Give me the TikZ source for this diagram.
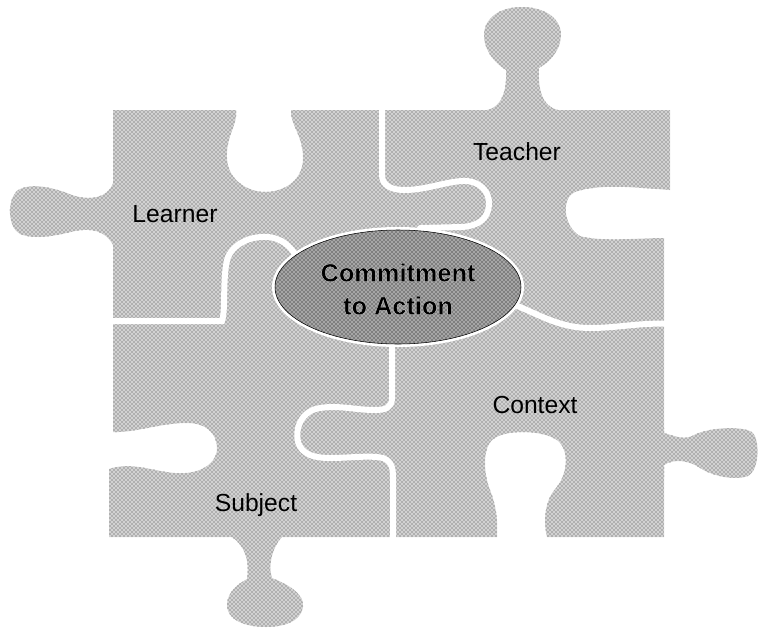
\documentclass[tikz,border=0pt]{standalone}
\usepackage{fontspec}
\setmainfont{Liberation Sans}
\usetikzlibrary{patterns}

% black letters with a white rim (fill and stroke text mode)
\newcommand\rimmed[1]{\special{pdf:literal direct 1 1 1 RG 0.15 w 2 Tr}#1\special{pdf:literal direct 0 Tr}}

\begin{document}
\begin{tikzpicture}
  [x=0.75pt, y=-0.75pt,
   piece/.style={fill=gray!35, postaction={pattern=crosshatch dots, pattern color=black!75}},
   cut/.style={draw=white, line width=4.5pt, line cap=round},
   hub/.style={fill=gray!70, draw=black, thin, postaction={pattern=crosshatch dots, pattern color=black}},
   tag/.style={font=\fontsize{18.5}{22}\selectfont, anchor=base, inner sep=0pt},
   hubtext/.style={font=\fontsize{19}{24.75}\selectfont\bfseries, align=center, inner sep=0pt, line width=0.15pt},
  ]
  \useasboundingbox (0,0) rectangle (759,628);

  % the four pieces as one outline
  \path[piece] (113,110) -- (236,110)
    .. controls (238,125) and (226,135) .. (227,158)
    .. controls (228,182) and (250,192) .. (265,192)
    .. controls (282,192) and (303,182) .. (303,158)
    .. controls (303,135) and (290,125) .. (291,110)
    -- (487,110)
    .. controls (502,107) and (507,90) .. (506,70)
    .. controls (490,60) and (483,45) .. (484,33)
    .. controls (486,15) and (503,7) .. (522,7)
    .. controls (543,7) and (561,17) .. (561,35)
    .. controls (561,50) and (550,62) .. (539,68)
    .. controls (538,90) and (542,106) .. (558,110)
    -- (670,110) -- (670,190)
    .. controls (640,188) and (600,183) .. (575,192)
    .. controls (562,197) and (562,225) .. (580,236)
    .. controls (600,242) and (640,238) .. (664,238)
    -- (664,433)
    .. controls (675,436) and (683,440) .. (692,436)
    .. controls (705,428) and (740,425) .. (752,432)
    .. controls (760,438) and (760,470) .. (748,476)
    .. controls (735,481) and (712,476) .. (700,468)
    .. controls (690,461) and (675,458) .. (664,465)
    -- (664,537) -- (547,537)
    .. controls (543,520) and (545,500) .. (556,488)
    .. controls (566,476) and (570,455) .. (560,443)
    .. controls (550,430) and (505,428) .. (492,440)
    .. controls (482,450) and (484,475) .. (490,490)
    .. controls (496,505) and (498,520) .. (497,537)
    -- (282,537)
    .. controls (272,548) and (268,565) .. (272,578)
    .. controls (290,585) and (305,595) .. (303,607)
    .. controls (301,622) and (283,627) .. (266,627)
    .. controls (245,627) and (227,620) .. (227,605)
    .. controls (227,592) and (238,584) .. (247,579)
    .. controls (250,560) and (244,545) .. (232,537)
    -- (109,537) -- (109,469)
    .. controls (135,460) and (160,475) .. (185,473)
    .. controls (205,472) and (218,460) .. (217,447)
    .. controls (216,432) and (205,423) .. (187,423)
    .. controls (160,423) and (135,433) .. (113,432)
    -- (113,245)
    .. controls (105,230) and (90,228) .. (75,231)
    .. controls (55,236) and (35,240) .. (20,234)
    .. controls (8,228) and (6,200) .. (18,190)
    .. controls (32,182) and (55,188) .. (72,195)
    .. controls (90,201) and (108,198) .. (113,183)
    -- cycle;

  % cuts between the pieces
  \draw[cut] (382,100) -- (382,175)
    .. controls (382,186) and (392,190) .. (405,190)
    .. controls (425,190) and (445,182) .. (462,181)
    .. controls (480,180) and (490,192) .. (489,205)
    .. controls (488,219) and (478,226) .. (462,227) -- (420,228);
  \draw[cut] (515,305) .. controls (540,315) and (560,328) .. (590,328)
    .. controls (620,328) and (640,322) .. (675,324);
  \draw[cut] (392,340) -- (392,398)
    .. controls (392,408) and (385,410) .. (375,410)
    .. controls (355,410) and (340,405) .. (320,408)
    .. controls (300,411) and (295,430) .. (298,442)
    .. controls (302,455) and (315,458) .. (330,458)
    .. controls (350,458) and (370,455) .. (383,458)
    .. controls (393,462) and (393,470) .. (393,480) -- (393,545);
  \draw[cut] (100,321) -- (222,321)
    .. controls (226,310) and (222,275) .. (228,257)
    .. controls (235,242) and (252,236) .. (268,237)
    .. controls (280,238) and (290,245) .. (296,256);

  % centre
  \draw[white, line width=4.5pt] (398,287) ellipse [x radius=123, y radius=57];
  \path[hub] (398,287) ellipse [x radius=123, y radius=57];
  \node[hubtext] (core) at (398,289) {\rimmed{Commitment}\\\rimmed{to Action}};

  \node[tag] (learner) at (175,222) {Learner};
  \node[tag] (teacher) at (517,160) {Teacher};
  \node[tag] (context) at (535,413) {Context};
  \node[tag] (subject) at (256,511) {Subject};
\end{tikzpicture}
\end{document}
